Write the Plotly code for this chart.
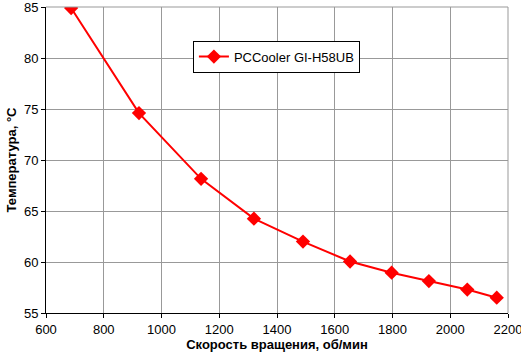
import plotly.graph_objects as go

rpm = [687, 922, 1137, 1320, 1490, 1653, 1797, 1926, 2059, 2161]
temp = [84.9, 74.6, 68.15, 64.25, 62.0, 60.05, 58.95, 58.13, 57.3, 56.5]
series_name = "PCCooler GI-H58UB"
x_title = "Скорость вращения, об/мин"
y_title = "Температура, °C"

FAM = "Liberation Sans, Arial, sans-serif"
GRID = "#999999"

fig = go.Figure()
fig.add_trace(go.Scatter(
    x=rpm, y=temp, mode="lines+markers", name=series_name,
    line=dict(color="#ff0000", width=2),
    marker=dict(symbol="diamond", size=11, color="#ff0000"),
))

fig.update_layout(
    width=521, height=355,
    margin=dict(l=46, r=13, t=7, b=42),
    paper_bgcolor="white", plot_bgcolor="white",
    font=dict(family=FAM, size=13, color="black"),
    showlegend=True,
    legend=dict(
        x=0.318, y=0.89, xanchor="left", yanchor="top",
        bgcolor="white", bordercolor="black", borderwidth=1,
        font=dict(family=FAM, size=13, color="black"),
    ),
    xaxis=dict(
        range=[600, 2200], dtick=200, tick0=600, tickmode="linear",
        showgrid=True, gridcolor=GRID, gridwidth=1,
        showline=True, linecolor="black", linewidth=1, mirror=False,
        ticks="outside", ticklen=4, tickcolor="black",
        zeroline=False, automargin=False, ticklabeloverflow="allow",
        title=dict(text=x_title, font=dict(family=FAM, size=13, color="black", weight="bold"), standoff=2),
    ),
    yaxis=dict(
        range=[55, 85], dtick=5, tick0=55, tickmode="linear",
        showgrid=True, gridcolor=GRID, gridwidth=1,
        showline=True, linecolor="black", linewidth=1,
        ticks="outside", ticklen=4, tickcolor="black",
        zeroline=False, automargin=False, ticklabeloverflow="allow",
        title=dict(text=y_title, font=dict(family=FAM, size=13, color="black", weight="bold"), standoff=4),
    ),
)
fig.add_shape(type="line", xref="paper", yref="paper", x0=0, x1=1, y0=1, y1=1,
              line=dict(color=GRID, width=1), layer="above")
fig.add_shape(type="line", xref="paper", yref="paper", x0=1, x1=1, y0=0, y1=1,
              line=dict(color=GRID, width=1), layer="above")

fig.write_html("out.html", config={"displayModeBar": False},
               post_script="document.body.style.margin='0';document.body.style.padding='0';")
